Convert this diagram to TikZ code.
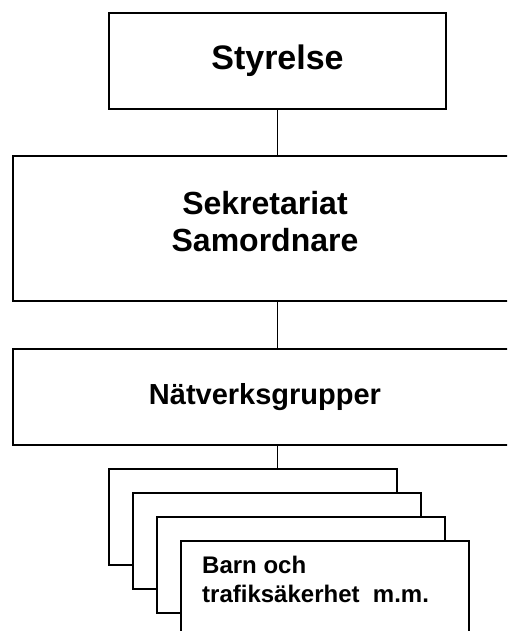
\documentclass[tikz,border=0pt]{standalone}
\usepackage{fontspec}
\setmainfont{Liberation Sans}
\begin{document}
\begin{tikzpicture}[x=1pt, y=-1pt,
    box/.style={draw, line width=2pt, fill=white, rectangle, inner sep=0pt, font=\bfseries},
    wide/.style={box, minimum width=504pt},
    grupp/.style={box, minimum width=288pt, minimum height=96pt},
    conn/.style={line width=1.2pt}]
            \useasboundingbox (0,0) rectangle (507,631);
            \clip (0,0) rectangle (507,631);
            \node[box, minimum width=337pt, minimum height=96pt, font=\bfseries\fontsize{34}{40}\selectfont] (styrelse) at (277.5, 61) {Styrelse};
            \node[wide, minimum height=145pt] (sekretariat) at (265, 228.5) {};
            \node[font=\bfseries\fontsize{32}{37}\selectfont, align=center] (sektext) at (265, 222) {Sekretariat\\Samordnare};
            \node[wide, minimum height=96pt, font=\bfseries\fontsize{29}{34}\selectfont] (natverk) at (265, 397) {Nätverksgrupper};
            \node[grupp] (g1) at (253, 517) {};
            \node[grupp] (g2) at (277, 541) {};
            \node[grupp] (g3) at (301, 565) {};
            \node[grupp] (g4) at (325, 589) {};
            \node[font=\bfseries\fontsize{24}{29}\selectfont, align=left, anchor=north west, inner sep=0pt] (barn) at (202, 556) {Barn och\\trafiksäkerhet~ m.m.};
            \draw[conn] (styrelse.south) -- (styrelse.south |- sekretariat.north);
            \draw[conn] (sekretariat.south -| styrelse.south) -- (natverk.north -| styrelse.south);
            \draw[conn] (natverk.south -| styrelse.south) -- (g1.north -| styrelse.south);
         \end{tikzpicture}
\end{document}
